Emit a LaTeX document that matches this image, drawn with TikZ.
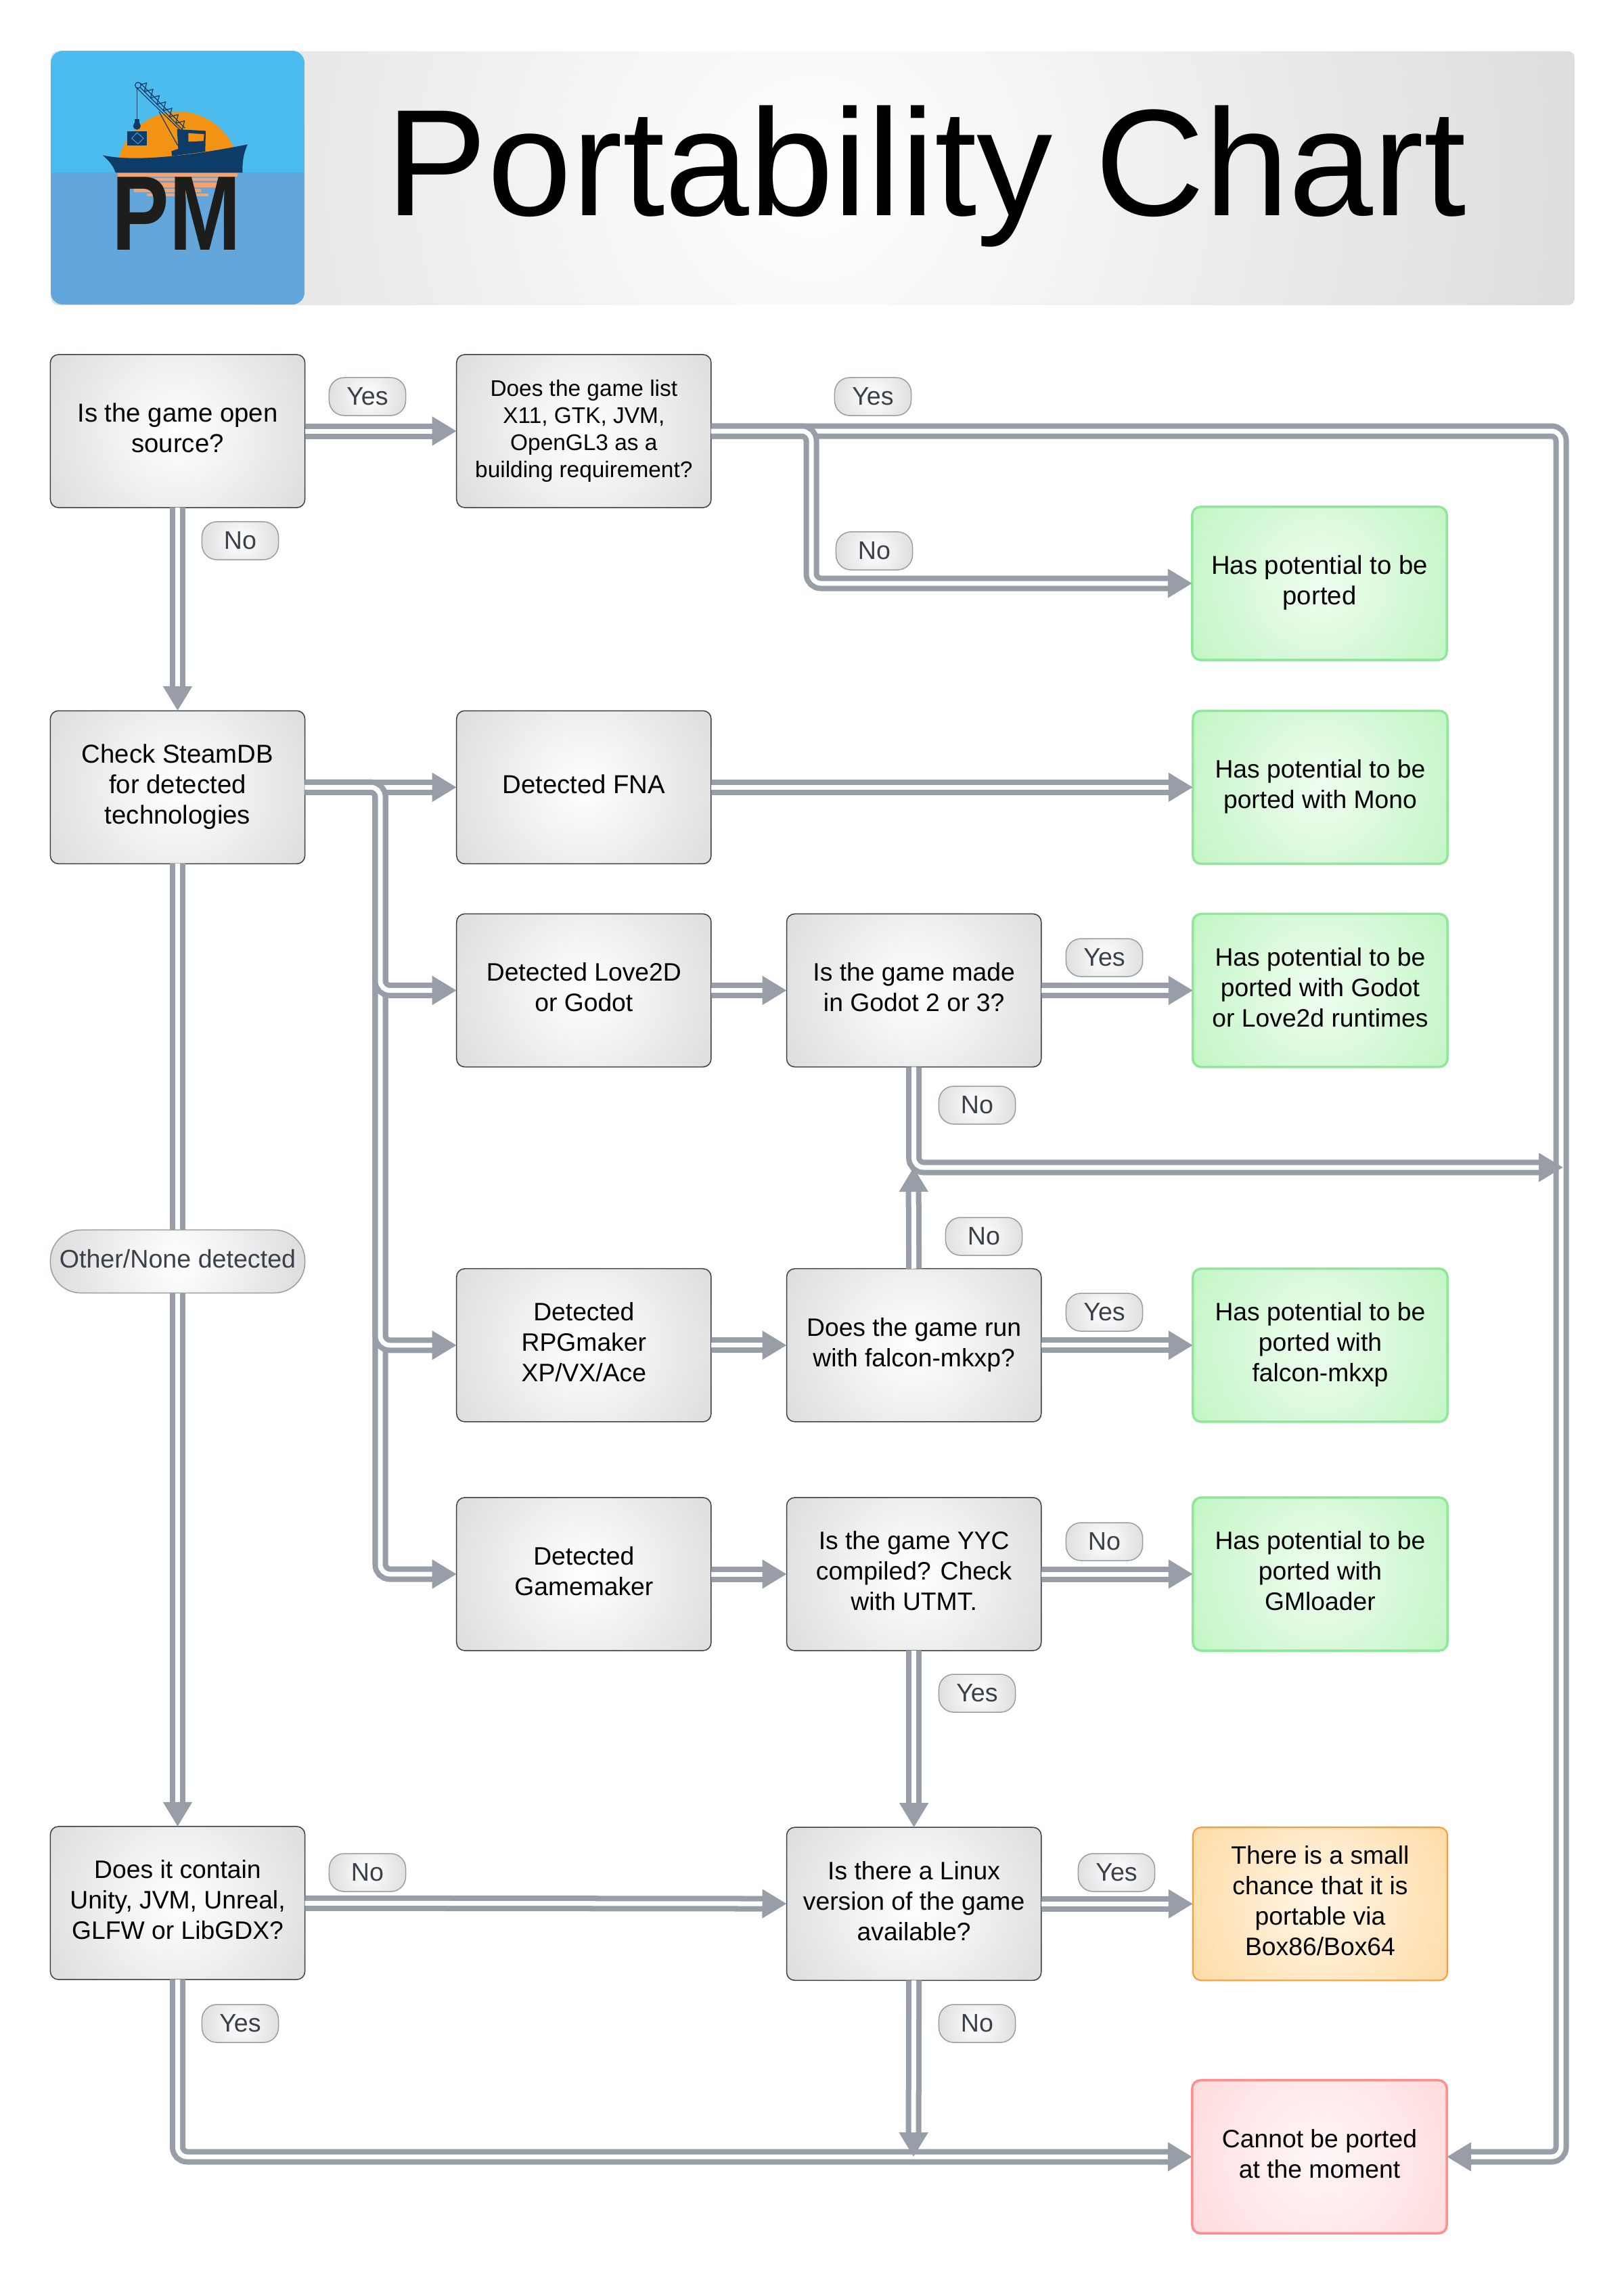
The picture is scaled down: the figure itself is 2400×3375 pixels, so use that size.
\documentclass[tikz,border=0pt]{standalone}
\usepackage{fontspec}
\setmainfont{Liberation Sans}
\usetikzlibrary{positioning, arrows.meta}
\definecolor{line_gray}{HTML}{979EA8}
\definecolor{pill_text}{HTML}{3A414A}
\definecolor{box_edge}{HTML}{3A414A}
\definecolor{green_edge}{HTML}{8EE89A}
\definecolor{orange_edge}{HTML}{FF9A33}
\definecolor{red_edge}{HTML}{FF8F8F}
\definecolor{gray_far}{HTML}{D6D6D6}
\definecolor{green_near}{HTML}{EFFDEF}
\definecolor{green_far}{HTML}{B9F4BC}
\definecolor{orange_near}{HTML}{FFF6E6}
\definecolor{orange_far}{HTML}{FFD699}
\definecolor{red_near}{HTML}{FFF6F7}
\definecolor{red_far}{HTML}{FFD6D8}
\definecolor{logo_sky}{HTML}{4CBBEE}
\definecolor{logo_sea}{HTML}{62A6DC}
\definecolor{logo_sun}{HTML}{F39314}
\definecolor{logo_navy}{HTML}{0E3C68}
\definecolor{logo_glow}{HTML}{F4A26E}
\definecolor{logo_ink}{HTML}{1D1D1B}
\pgfdeclareradialshading{gray_glow}{\pgfpointorigin}{color(0bp)=(white); color(30bp)=(gray_far); color(50bp)=(gray_far)}
\pgfdeclareradialshading{green_glow}{\pgfpointorigin}{color(0bp)=(green_near); color(30bp)=(green_far); color(50bp)=(green_far)}
\pgfdeclareradialshading{orange_glow}{\pgfpointorigin}{color(0bp)=(orange_near); color(30bp)=(orange_far); color(50bp)=(orange_far)}
\pgfdeclareradialshading{red_glow}{\pgfpointorigin}{color(0bp)=(red_near); color(30bp)=(red_far); color(50bp)=(red_far)}

\begin{document}
\begin{tikzpicture}[x=0.01cm, y=-0.01cm, on grid,
                    glow/.style 2 args={path picture={\shade[shading=#1] (path picture bounding box.center) circle[radius=#2];}},
                    chartbox/.style={rectangle, minimum width=3.76cm, minimum height=2.26cm, inner sep=0pt, outer sep=0pt, rounded corners=0.12cm, align=center, text depth=2.6pt, font=\fontsize{10.6}{12.8}\selectfont},
                    graybox/.style={chartbox, glow={gray_glow}{2.2cm}, draw=box_edge, line width=0.015cm},
                    greenbox/.style={chartbox, glow={green_glow}{2.2cm}, draw=green_edge, line width=0.035cm},
                    orangebox/.style={chartbox, glow={orange_glow}{2.2cm}, draw=orange_edge, line width=0.02cm},
                    redbox/.style={chartbox, glow={red_glow}{2.2cm}, draw=red_edge, line width=0.035cm},
                    bigtext/.style={font=\fontsize{10.9}{12.8}\selectfont},
                    pill/.style={rectangle, glow={gray_glow}{0.62cm}, draw=line_gray, line width=0.015cm, minimum width=1.13cm, minimum height=0.56cm, inner sep=0pt, outer sep=0pt, rounded corners=0.22cm, text=pill_text, font=\fontsize{10.7}{12.8}\selectfont},
                    connection/.style={-{Triangle[length=0.36cm, width=0.41cm]}, line_gray, line width=0.08cm, double=white, double distance=0.07cm, rounded corners=0.14cm}]
  \useasboundingbox (0,0) rectangle (2400,3375);

  % Title bar
  \node[rectangle, glow={gray_glow}{11.4cm}, minimum width=22.50cm, minimum height=3.75cm, inner sep=0pt, rounded corners=0.1cm, anchor=north west] (titlebar) at (75,75) {};
  \node[font=\fontsize{63.8}{70}\selectfont] (titletext) at (1369,260) {Portability Chart};

  % Logo
  \begin{scope}[shift={(50,50)}, x=0.01cm/3, y=-0.01cm/3]
    \begin{scope}
      \clip[rounded corners=0.18cm] (75,75) rectangle (1200,1200);
      \fill[logo_sky] (75,75) rectangle (1200,615);
      \fill[logo_sea] (75,615) rectangle (1200,1200);
      \fill[logo_sun] (370,615) arc[start angle=180, end angle=0, x radius=270, y radius=-270] -- cycle;
    \end{scope}
    \fill[logo_glow] (372,618) rectangle (902,632);
    \fill[logo_glow] (410,639) rectangle (890,652);
    \fill[logo_glow] (425,660) rectangle (870,680);
    \fill[logo_glow] (445,688) rectangle (740,702);
    \fill[logo_glow] (500,708) rectangle (775,720);
    % hull and cabin
    \fill[logo_navy] (305,538) .. controls (400,560) and (600,560) .. (948,490) .. controls (925,540) and (925,580) .. (925,615) -- (362,615) .. controls (350,580) and (330,560) .. (305,538) -- cycle;
    \fill[logo_navy] (635,423) -- (762,430) -- (760,522) -- (612,542) -- (610,520) -- (640,510) -- cycle;
    \fill[logo_sun] (685,440) -- (755,445) -- (752,475) -- (685,478) -- cycle;
    % crane
    \draw[logo_navy, line width=0.012cm] (452,236) -- (650,428);
    \draw[logo_navy, line width=0.012cm] (472,218) -- (670,418);
    \foreach \i in {0,...,6} {
      \draw[logo_navy, line width=0.012cm] (462+\i*28,228+\i*28) -- ++(38,-10) -- ++(-10,38) -- cycle;
    }
    \draw[logo_navy, line width=0.012cm, fill=logo_sky] (462,228) circle[radius=13];
    \draw[logo_navy, line width=0.012cm] (458,240) -- (458,385);
    \draw[logo_navy, line width=0.012cm] (555,345) -- (638,495);
    \fill[logo_navy] (447,378) rectangle (469,395);
    \fill[logo_navy] (457,408) circle[radius=17];
    \fill[logo_navy] (414,432) rectangle (502,494);
    \draw[logo_sea, line width=0.008cm] (458,438) -- (486,463) -- (462,488) -- (434,463) -- cycle;
    % letters
    \node[font=\fontsize{44.5}{48}\selectfont\bfseries, text=logo_ink, inner sep=0pt, xscale=0.81, transform shape] (logotext) at (633,798) {PM};
  \end{scope}

  % Define boxes
  \node[graybox, bigtext] (isopen) at (262.5,637) {Is the game open\\source?};
  \node[graybox, text depth=2.2pt, font=\fontsize{9.5}{11.4}\selectfont] (gamelist) [right=6cm of isopen] {Does the game list\\X11, GTK, JVM,\\OpenGL3 as a\\building requirement?};
  \node[graybox, bigtext] (steamdb) [below=5.26cm of isopen] {Check SteamDB\\for detected\\technologies};
  \node[graybox, bigtext] (fna) [right=6cm of steamdb] {Detected FNA};
  \node[graybox] (love2d) [below=3cm of fna] {Detected Love2D\\or Godot};
  \node[graybox] (rpgmaker) [below=5.24cm of love2d] {Detected\\RPGmaker\\XP/VX/Ace};
  \node[graybox] (gamemaker) [below=3.38cm of rpgmaker] {Detected\\Gamemaker};
  \node[graybox] (godotq) [right=4.875cm of love2d] {Is the game made\\in Godot 2 or 3?};
  \node[graybox] (falconq) [right=4.875cm of rpgmaker] {Does the game run\\with falcon-mkxp?};
  \node[graybox] (yycq) [right=4.875cm of gamemaker] {Is the game YYC\\compiled? Check\\with UTMT.};
  \node[graybox] (linuxq) [below=4.87cm of yycq] {Is there a Linux\\version of the game\\available?};
  \node[graybox] (unity) at (262.5,2812) {Does it contain\\Unity, JVM, Unreal,\\GLFW or LibGDX?};
  \node[greenbox, bigtext] (hasport) at (1950,862) {Has potential to be\\ported};
  \node[greenbox] (mono) [right=6cm of godotq, yshift=3cm] {Has potential to be\\ported with Mono};
  \node[greenbox] (godotport) [right=6cm of godotq] {Has potential to be\\ported with Godot\\or Love2d runtimes};
  \node[greenbox] (falconport) [right=6cm of falconq] {Has potential to be\\ported with\\falcon-mkxp};
  \node[greenbox] (gmloader) [right=6cm of yycq] {Has potential to be\\ported with\\GMloader};
  \node[orangebox] (box86) [right=6cm of linuxq] {There is a small\\chance that it is\\portable via\\Box86/Box64};
  \node[redbox] (cannot) at (1950,3187) {Cannot be ported\\at the moment};

  % Turning points
  \coordinate (split_list) at (1199,750);
  \coordinate (split_steam) at (562,1300);
  \coordinate (rail_right) at (2307,1700);
  \coordinate (rail_end) at (2310,1725);
  \coordinate (merge_up) at (1350,1725);
  \coordinate (merge_down) at (1350,3187);

  % Connections
  \draw[connection] (isopen) -- (gamelist);
  \draw[connection] (isopen) -- (steamdb);
  \draw[connection] (gamelist.east) -| (rail_right) |- (cannot.east);
  \draw[connection] (gamelist.east) -| (split_list) |- (hasport.west);
  \draw[connection] (steamdb) -- (fna);
  \draw[connection] (steamdb.east) -| (split_steam) |- (gamemaker.west);
  \draw[connection] (steamdb.east) -| (split_steam) |- (rpgmaker.west);
  \draw[connection] (steamdb.east) -| (split_steam) |- (love2d.west);
  \draw[connection] (fna) -- (mono);
  \draw[connection] (love2d) -- (godotq);
  \draw[connection] (godotq) -- (godotport);
  \draw[connection] (rpgmaker) -- (falconq);
  \draw[connection] (falconq) -- (falconport);
  \draw[connection] (gamemaker) -- (yycq);
  \draw[connection] (yycq) -- (gmloader);
  \draw[connection] (yycq) -- (linuxq);
  \draw[connection] (steamdb) -- (unity);
  \draw[connection] (unity) -- (linuxq);
  \draw[connection] (linuxq) -- (box86);
  \draw[connection] (godotq.south) |- (rail_end);
  \draw[connection] (falconq.north) -- (merge_up);
  \draw[connection] (unity.south) |- (cannot.west);
  \draw[connection] (linuxq.south) -- (merge_down);

  % Connection labels
  \node[pill] (yes_list) at (543,586) {Yes};
  \node[pill] (no_steam) at (355,799) {No};
  \node[pill] (yes_rail) at (1290,586) {Yes};
  \node[pill] (no_port) at (1292,814) {No};
  \node[pill] (yes_godot) at (1632,1415) {Yes};
  \node[pill] (no_godot) at (1444,1633) {No};
  \node[pill] (no_falcon) at (1454,1827) {No};
  \node[pill] (yes_falcon) at (1632,1939) {Yes};
  \node[pill] (no_yyc) at (1632,2278) {No};
  \node[pill] (yes_yyc) at (1444,2502) {Yes};
  \node[pill] (no_unity) at (543,2767) {No};
  \node[pill] (yes_box) at (1650,2767) {Yes};
  \node[pill] (yes_unity) at (355,2990) {Yes};
  \node[pill] (no_linux) at (1444,2990) {No};
  \node[pill, glow={gray_glow}{1.92cm}, text depth=2.3pt, minimum width=3.76cm, minimum height=0.93cm, rounded corners=0.45cm] (other_none) at (262.5,1864) {Other/None detected};

\end{tikzpicture}
\end{document}
